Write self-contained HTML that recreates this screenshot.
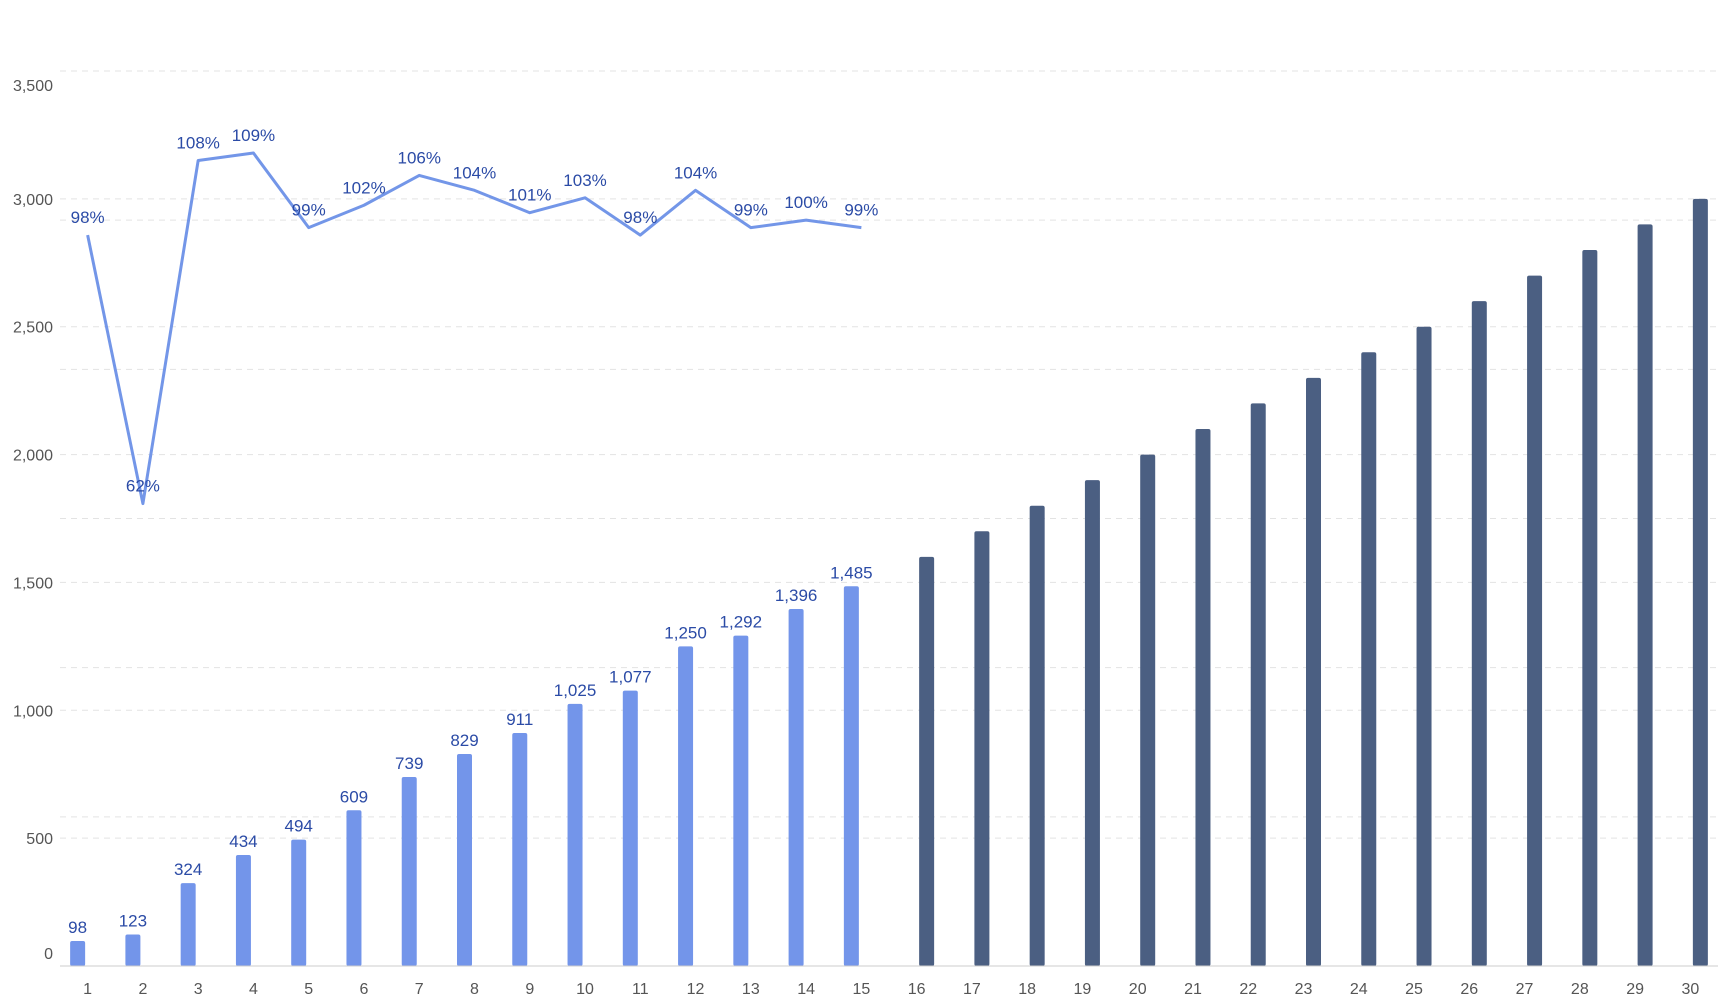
<!DOCTYPE html>
<html><head><meta charset="utf-8"><style>
html,body{margin:0;padding:0;background:#fff;}
svg{display:block;font-family:"Liberation Sans","Noto Sans CJK SC",sans-serif;}
</style></head><body>
<svg id="chart" width="1728" height="996" viewBox="0 0 1728 996" xmlns="http://www.w3.org/2000/svg">
<g id="grid"></g>
<g id="yaxis"></g>
<g id="bars"></g>
<g id="line"></g>
<g id="xaxis"></g>
</svg>
<script>
const categories = [1,2,3,4,5,6,7,8,9,10,11,12,13,14,15,16,17,18,19,20,21,22,23,24,25,26,27,28,29,30];
const actualValues = [98,123,324,434,494,609,739,829,911,1025,1077,1250,1292,1396,1485];
const targetValues = [null,null,null,null,null,null,null,null,null,null,null,null,null,null,null,1600,1700,1800,1900,2000,2100,2200,2300,2400,2500,2600,2700,2800,2900,3000];
const rateValues = [98,62,108,109,99,102,106,104,101,103,98,104,99,100,99];
const yTicks = [0,500,1000,1500,2000,2500,3000,3500];
const rateTicks = [0,20,40,60,80,100,120];

const NS='http://www.w3.org/2000/svg';
const L=60,R=1718,B=966,T=71;
const band=(R-L)/categories.length;
const xC=i=>L+band*(i+0.5);
const y=v=>B-(v/3500)*(B-T);
const yr=v=>B-(v/120)*(B-T);
function mk(tag,attrs,parent){const e=document.createElementNS(NS,tag);for(const k in attrs)e.setAttribute(k,attrs[k]);parent.appendChild(e);return e;}
const grid=document.getElementById('grid'),ya=document.getElementById('yaxis'),bars=document.getElementById('bars'),line=document.getElementById('line'),xa=document.getElementById('xaxis');

yTicks.forEach((t,k)=>{
  if(t>0){const g=mk('line',{x1:L,x2:R,y1:y(t),y2:y(t),stroke:'#e3e3e3','stroke-dasharray':'6 5','stroke-width':1},grid);
  
  }
  let dy=6; if(k===0)dy=-7; if(k===yTicks.length-1)dy=20;
  const tx=mk('text',{x:53,y:y(t)+dy,'text-anchor':'end','font-size':16,fill:'#555'},ya);
  tx.textContent=t.toLocaleString('en-US');
  
  
});
rateTicks.forEach(t=>{
  if(t>0&&t<120){const g=mk('line',{x1:L,x2:R,y1:yr(t),y2:yr(t),stroke:'#e3e3e3','stroke-dasharray':'6 5','stroke-width':1},grid);
  
  }
});

const bw=15,off=10;
categories.forEach((c,i)=>{
  const a=actualValues[i];
  if(a!=null){
    const r=mk('rect',{x:xC(i)-off-bw/2,y:y(a),width:bw,height:B-y(a),fill:'#7395ea',rx:2},bars);
    
    
    const t=mk('text',{x:xC(i)-off,y:y(a)-8,'text-anchor':'middle','font-size':17,fill:'#2b4ba6'},bars);
    t.textContent=a.toLocaleString('en-US');
    
    
  }
  const tv=targetValues[i];
  if(tv!=null){
    const r=mk('rect',{x:xC(i)+off-bw/2,y:y(tv),width:bw,height:B-y(tv),fill:'#4b5f82',rx:2},bars);
    
    
  }
  const xl=mk('text',{x:xC(i),y:B+28,'text-anchor':'middle','font-size':16,fill:'#555'},xa);
  xl.textContent=c;
  
  
});
const base=mk('line',{x1:L,x2:R,y1:B,y2:B,stroke:'#ccc','stroke-width':1},xa);



const pts=rateValues.map((v,i)=>[xC(i),yr(v)]);
const pl=mk('polyline',{points:pts.map(p=>p.join(',')).join(' '),fill:'none',stroke:'#7396e8','stroke-width':3,'stroke-linejoin':'round'},line);


rateValues.forEach((v,i)=>{
  const t=mk('text',{x:pts[i][0],y:pts[i][1]-12,'text-anchor':'middle','font-size':17,fill:'#2b4ba6'},line);
  t.textContent=v+'%';
  
  
});
</script>
</body></html>
